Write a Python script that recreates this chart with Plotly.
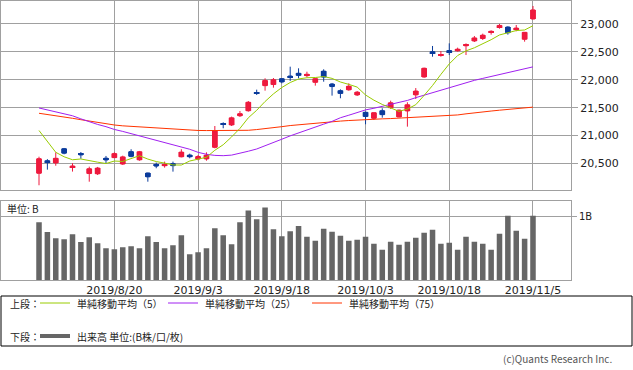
import plotly.graph_objects as go
import pandas as pd

dates = ["2019/8/6", "2019/8/7", "2019/8/8", "2019/8/9", "2019/8/13", "2019/8/14", "2019/8/15", "2019/8/16",
         "2019/8/19", "2019/8/20", "2019/8/21", "2019/8/22", "2019/8/23", "2019/8/26", "2019/8/27", "2019/8/28",
         "2019/8/29", "2019/8/30", "2019/9/2", "2019/9/3", "2019/9/4", "2019/9/5", "2019/9/6", "2019/9/9",
         "2019/9/10", "2019/9/11", "2019/9/12", "2019/9/13", "2019/9/17", "2019/9/18", "2019/9/19", "2019/9/20",
         "2019/9/24", "2019/9/25", "2019/9/26", "2019/9/27", "2019/9/30", "2019/10/1", "2019/10/2", "2019/10/3",
         "2019/10/4", "2019/10/7", "2019/10/8", "2019/10/9", "2019/10/10", "2019/10/11", "2019/10/15", "2019/10/16",
         "2019/10/17", "2019/10/18", "2019/10/21", "2019/10/23", "2019/10/24", "2019/10/25", "2019/10/28", "2019/10/29",
         "2019/10/30", "2019/10/31", "2019/11/1", "2019/11/5"]

opens = [20325, 20550, 20510, 20765, 20430, 20676, 20320, 20315, 20595, 20605,
         20490, 20712, 20565, 20330, 20475, 20460, 20497, 20620, 20652, 20580,
         20580, 20790, 21210, 21190, 21355, 21445, 21770, 21895, 21915, 22020,
         22068, 22117, 22075, 21955, 22155, 21925, 21805, 21820, 21728, 21418,
         21310, 21446, 21500, 21334, 21441, 21730, 22050, 22504, 22440, 22525,
         22520, 22610, 22695, 22740, 22850, 22945, 22946, 22900, 22726, 23090]
highs = [20622, 20578, 20700, 20778, 20505, 20706, 20443, 20438, 20635, 20700,
         20640, 20755, 20725, 20335, 20516, 20534, 20534, 20755, 20676, 20652,
         20700, 21172, 21238, 21340, 21440, 21620, 21823, 22027, 22032, 22027,
         22235, 22206, 22145, 22025, 22188, 21943, 21829, 21937, 21799, 21429,
         21411, 21489, 21626, 21465, 21597, 21852, 22217, 22606, 22516, 22653,
         22576, 22653, 22785, 22827, 22887, 23000, 22958, 22982, 22855, 23323]
lows = [20110, 20390, 20460, 20665, 20355, 20586, 20174, 20294, 20504, 20598,
        20475, 20611, 20550, 20174, 20415, 20426, 20354, 20611, 20593, 20557,
        20550, 20772, 21131, 21172, 21334, 21429, 21728, 21805, 21859, 21937,
        21979, 22027, 22045, 21895, 21966, 21716, 21669, 21805, 21710, 21203,
        21280, 21321, 21478, 21328, 21160, 21656, 22038, 22414, 22414, 22444,
        22504, 22444, 22677, 22713, 22809, 22916, 22809, 22869, 22683, 23084]
closes = [20585.31, 20516.56, 20593.35, 20684.82, 20455.44, 20655.13, 20405.65, 20418.81, 20563.16, 20677.22,
          20618.57, 20628.01, 20710.91, 20261.04, 20456.08, 20479.42, 20460.93, 20704.37, 20620.19, 20625.16,
          20649.14, 21085.94, 21199.57, 21318.42, 21392.10, 21597.76, 21759.61, 21988.29, 22001.32, 21960.71,
          22044.45, 22079.09, 22098.84, 22020.15, 22048.24, 21878.90, 21755.84, 21885.24, 21778.61, 21341.74,
          21410.20, 21375.25, 21587.78, 21456.38, 21551.98, 21798.87, 22207.21, 22472.92, 22451.86, 22492.68,
          22548.90, 22625.38, 22750.60, 22799.81, 22867.27, 22974.13, 22843.12, 22927.04, 22850.77, 23251.99]
prior_closes = [21521.53, 21540.99, 21087.16, 20720.29]

ma25 = [21495, 21460, 21425, 21390, 21355, 21300, 21245, 21200, 21160, 21110,
        21075, 21035, 21000, 20960, 20925, 20885, 20840, 20800, 20755, 20700,
        20665, 20645, 20640, 20650, 20680, 20720, 20760, 20815, 20870, 20935,
        20995, 21050, 21105, 21160, 21205, 21255, 21320, 21365, 21410, 21460,
        21490, 21520, 21560, 21595, 21630, 21680, 21725, 21770, 21820, 21865,
        21910, 21950, 21990, 22025, 22060, 22095, 22125, 22160, 22190, 22232]
ma75 = [21400, 21380, 21355, 21335, 21310, 21285, 21260, 21235, 21210, 21190,
        21175, 21165, 21155, 21148, 21138, 21128, 21115, 21105, 21098, 21092,
        21090, 21090, 21088, 21088, 21090, 21095, 21108, 21122, 21140, 21160,
        21180, 21195, 21212, 21228, 21240, 21250, 21260, 21270, 21280, 21290,
        21295, 21300, 21305, 21312, 21320, 21325, 21330, 21336, 21345, 21355,
        21370, 21390, 21410, 21425, 21440, 21455, 21470, 21485, 21497, 21510]

volume_b = [0.911, 0.759, 0.660, 0.644, 0.723, 0.602, 0.675, 0.581, 0.503, 0.487,
            0.518, 0.534, 0.503, 0.691, 0.602, 0.503, 0.550, 0.707, 0.408, 0.440,
            0.503, 0.817, 0.707, 0.565, 0.911, 1.099, 0.958, 1.147, 0.801, 0.691,
            0.770, 0.852, 0.683, 0.619, 0.810, 0.762, 0.698, 0.619, 0.635, 0.683,
            0.571, 0.476, 0.603, 0.556, 0.603, 0.667, 0.746, 0.794, 0.571, 0.587,
            0.476, 0.683, 0.603, 0.571, 0.476, 0.730, 1.016, 0.778, 0.651, 1.016]

tick_dates = ["2019/8/20", "2019/9/3", "2019/9/18", "2019/10/3", "2019/10/18", "2019/11/5"]
price_ticks = [20500, 21000, 21500, 22000, 22500, 23000]

ma5 = pd.Series(prior_closes + closes).rolling(5).mean().iloc[len(prior_closes):].tolist()

RED = "#EE1A3E"
BLUE = "#0B3C9C"
GRID = "#A0A0A0"
C_MA5 = "#99CC00"
C_MA25 = "#A020F0"
C_MA75 = "#FF3300"
FONT = "DejaVu Sans, Noto Sans CJK JP, sans-serif"
JFONT = "Noto Sans CJK JP, DejaVu Sans, sans-serif"

W, H = 633, 370
ML, MR, MT, MB = 1, 62, 1, 90
PW = W - ML - MR
PH = H - MT - MB


def px(x):
    return (x - ML) / PW


def py(y):
    return (H - MB - y) / PH


fig = go.Figure()

# candle bodies (bars from open to close)
body_base = [min(o, c) for o, c in zip(opens, closes)]
body_len = [max(abs(c - o), 16) for o, c in zip(opens, closes)]
body_col = [RED if c >= o else BLUE for o, c in zip(opens, closes)]
fig.add_trace(go.Bar(x=dates, y=body_len, base=body_base, width=0.68,
                     marker=dict(color=body_col, line=dict(width=0)),
                     xaxis="x", yaxis="y", showlegend=False, hoverinfo="skip"))

# wicks
fig.add_trace(go.Candlestick(
    x=dates, open=opens, high=highs, low=lows, close=closes,
    increasing=dict(line=dict(color=RED, width=1), fillcolor=RED),
    decreasing=dict(line=dict(color=BLUE, width=1), fillcolor=BLUE),
    whiskerwidth=0, xaxis="x", yaxis="y", showlegend=False, hoverinfo="skip"))

for vals, col in [(ma75, C_MA75), (ma25, C_MA25), (ma5, C_MA5)]:
    fig.add_trace(go.Scatter(x=dates, y=vals, mode="lines", line=dict(color=col, width=1),
                             xaxis="x", yaxis="y", showlegend=False, hoverinfo="skip"))

fig.add_trace(go.Bar(x=dates, y=volume_b, marker=dict(color="#666666", line=dict(width=0)),
                     width=0.66, xaxis="x2", yaxis="y2", showlegend=False, hoverinfo="skip"))

xrange = [-4.54, 63.54]
ax_common = dict(type="category", range=xrange, tickvals=tick_dates, ticktext=tick_dates,
                 showgrid=True, gridcolor=GRID, gridwidth=1, showline=True, mirror=True,
                 linecolor=GRID, linewidth=1, ticks="", zeroline=False)

top_bottom = 190
vol_top = 201.3

fig.update_layout(
    width=W, height=H, margin=dict(l=ML, r=MR, t=MT, b=MB),
    paper_bgcolor="white", plot_bgcolor="white",
    font=dict(family=FONT, size=10, color="#222222"),
    barmode="overlay",
    xaxis=dict(**ax_common, anchor="y", domain=[0, 1], showticklabels=False,
               rangeslider=dict(visible=False)),
    yaxis=dict(domain=[py(top_bottom), 1], range=[20025, 23412], side="right",
               tickvals=price_ticks, tickformat=",d", showgrid=True, gridcolor=GRID,
               showline=True, mirror=True, linecolor=GRID, ticks="outside", ticklen=6,
               tickcolor=GRID, zeroline=False, tickfont=dict(size=11, color="#222222")),
    xaxis2=dict(**ax_common, anchor="y2", domain=[0, 1], showticklabels=True,
                tickfont=dict(size=11, color="#222222")),
    yaxis2=dict(domain=[0, py(vol_top)], range=[0, 1.243], side="right",
                tickvals=[1], ticktext=["1B"], showgrid=True, gridcolor=GRID,
                showline=True, mirror=True, linecolor=GRID, ticks="outside", ticklen=5,
                tickcolor=GRID, zeroline=False, tickfont=dict(size=10, color="#222222")),
)

shapes = []
shapes.append(dict(type="rect", xref="paper", yref="paper", x0=px(1), x1=px(632), y0=py(296), y1=py(346),
                   line=dict(color="#000000", width=1), fillcolor="rgba(0,0,0,0)"))
row1, row2 = 303, 336
for x0, col in [(40, C_MA5), (168, C_MA25), (312, C_MA75)]:
    shapes.append(dict(type="line", xref="paper", yref="paper", x0=px(x0), x1=px(x0 + 30),
                       y0=py(row1), y1=py(row1), line=dict(color=col, width=1)))
shapes.append(dict(type="line", xref="paper", yref="paper", x0=px(40), x1=px(70),
                   y0=py(row2), y1=py(row2), line=dict(color="#666666", width=4)))
fig.update_layout(shapes=shapes)

annots = []


def txt(x, y, s, anchor="left", size=10, color="#222222", fam=JFONT):
    annots.append(dict(xref="paper", yref="paper", x=px(x), y=py(y), text=s, showarrow=False,
                       xanchor=anchor, yanchor="middle", font=dict(size=size, color=color, family=fam)))


txt(8, row1, "上段：")
txt(75, row1, "単純移動平均（5）")
txt(203, row1, "単純移動平均（25）")
txt(347, row1, "単純移動平均（75）")
txt(8, row2, "下段：")
txt(75, row2, "出来高 単位:(B株/口/枚)")
txt(5, 209, "単位: B")
txt(614, 358, "(c)Quants Research Inc.", anchor="right", size=10, color="#555555")
fig.update_layout(annotations=annots)

fig.write_html("out.html", config={"displayModeBar": False},
               post_script="document.body.style.margin='0';document.body.style.overflow='hidden';")
